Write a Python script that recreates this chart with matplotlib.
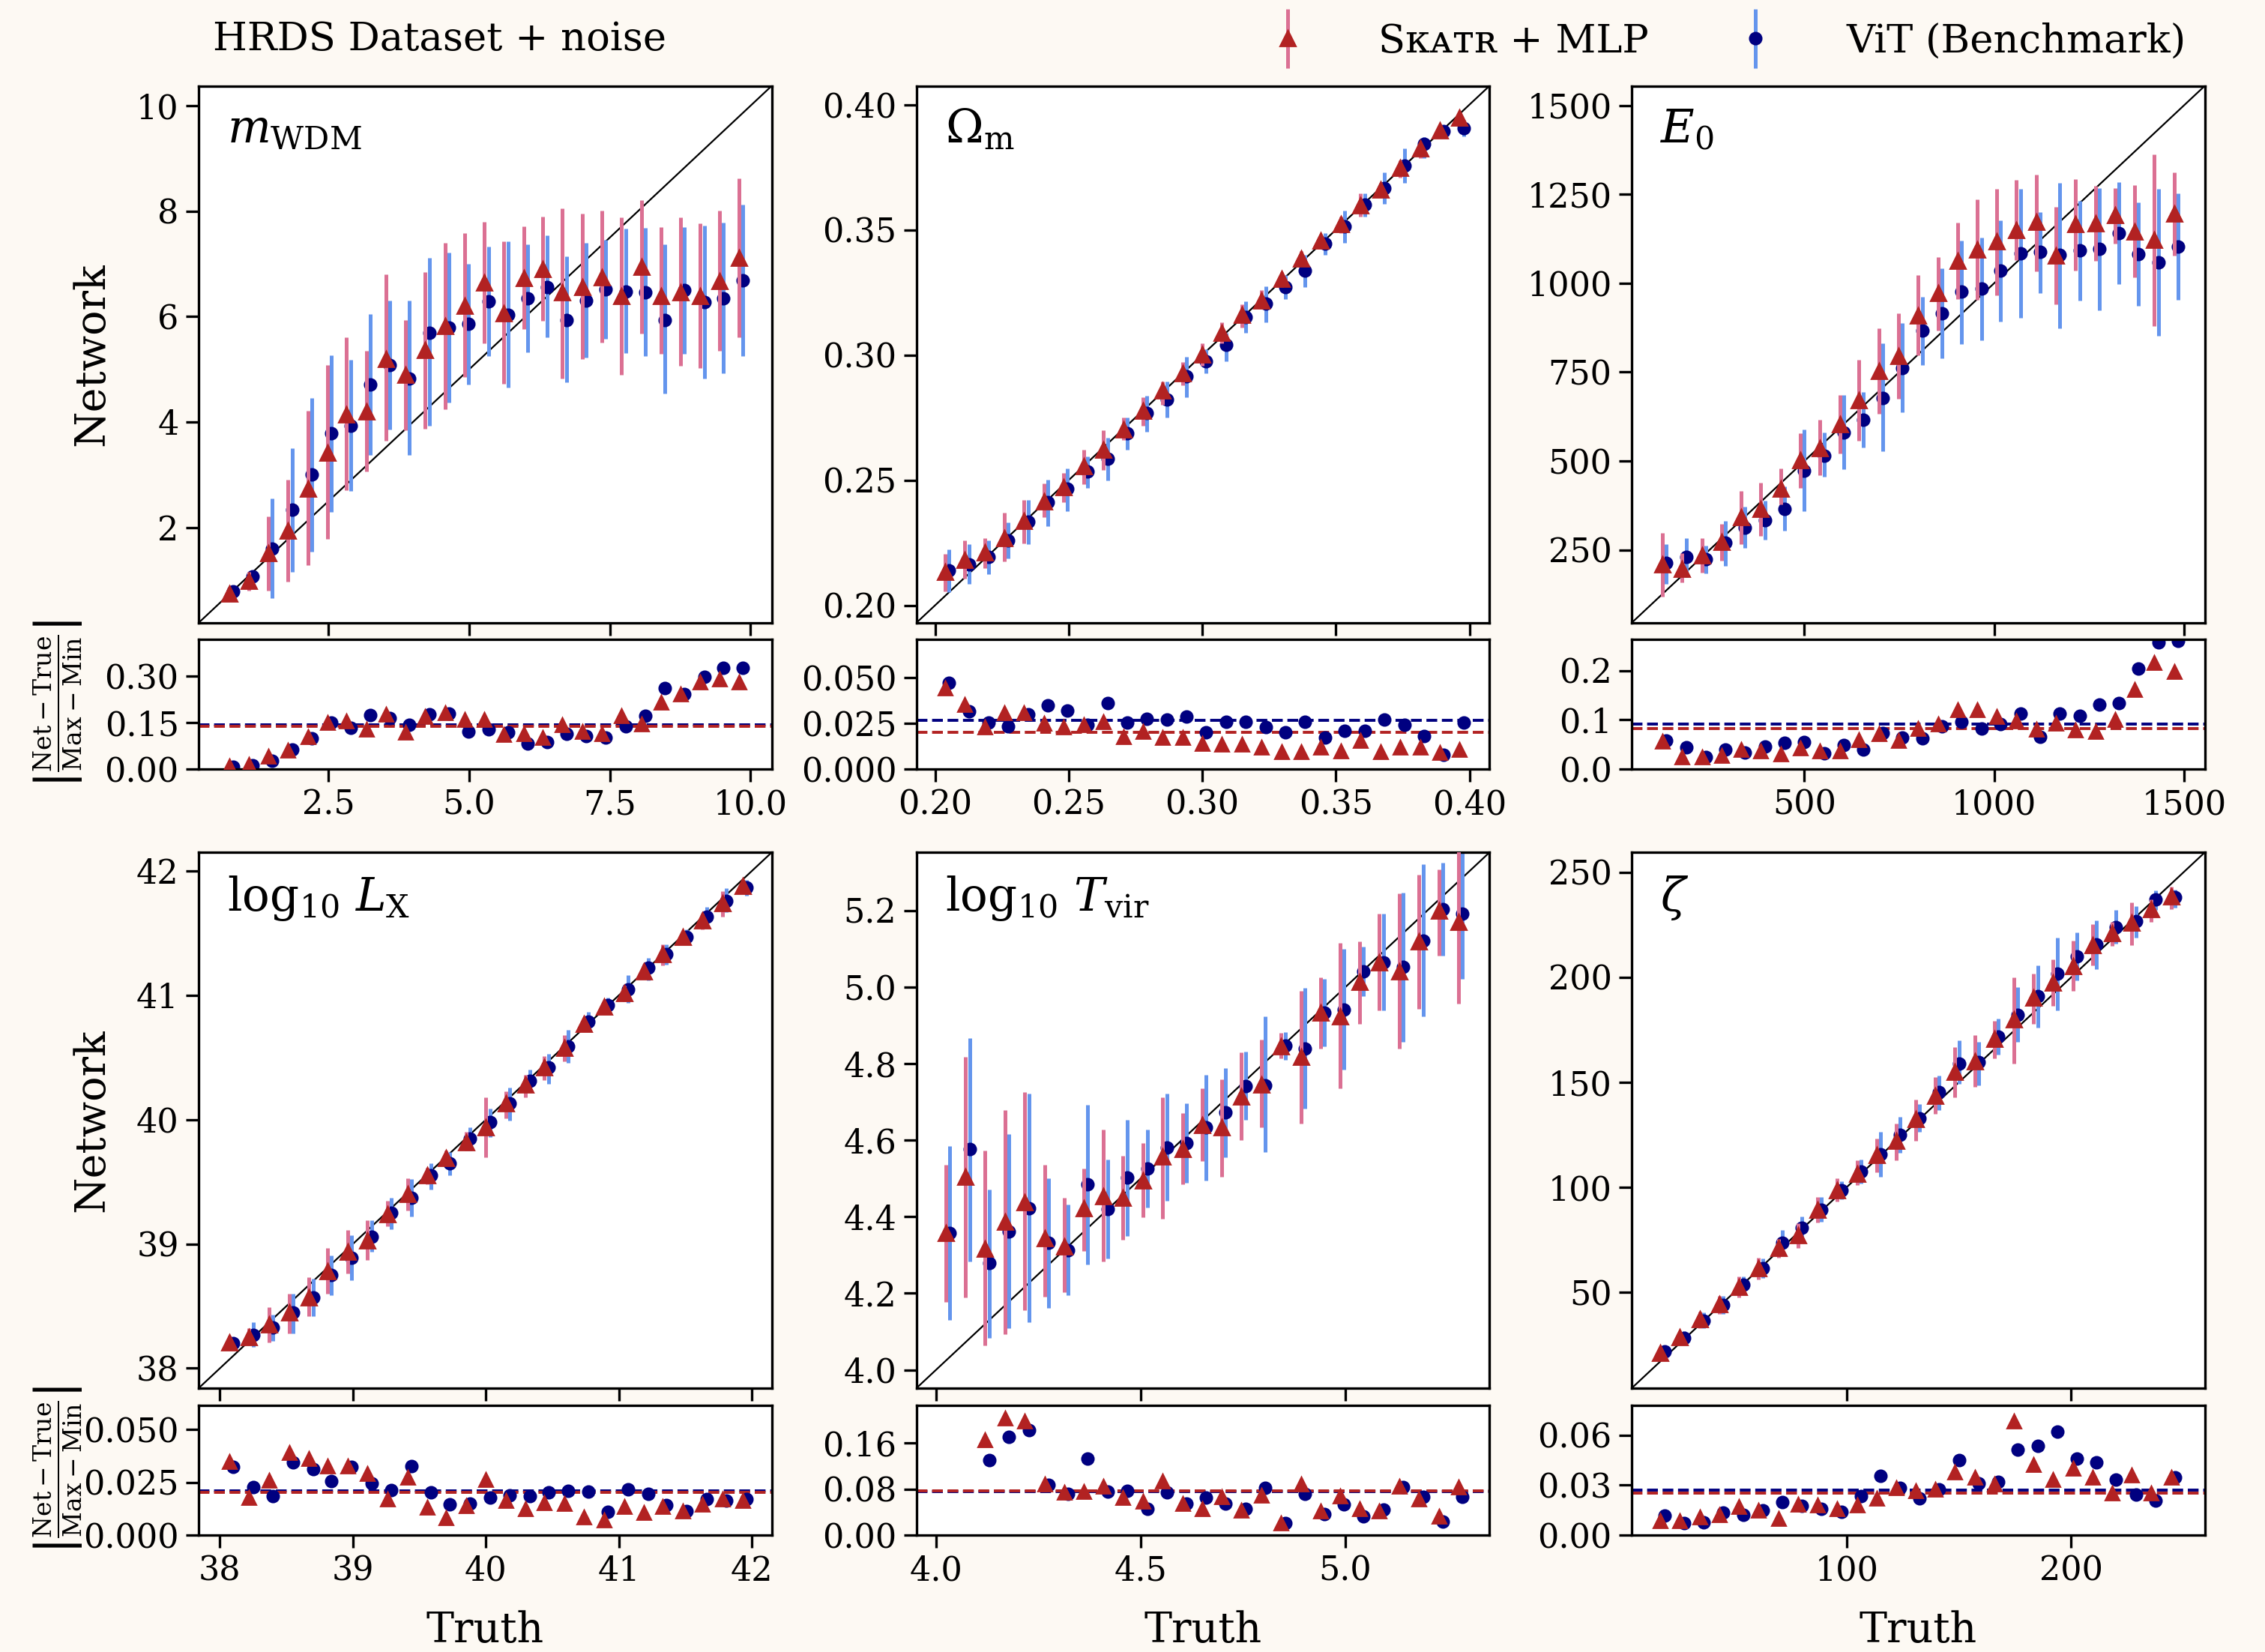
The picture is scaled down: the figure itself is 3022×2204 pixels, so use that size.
import numpy as np
import matplotlib.pyplot as plt
from matplotlib.container import ErrorbarContainer
from matplotlib.legend_handler import HandlerErrorbar

plt.rcParams['font.family'] = ['DejaVu Serif', 'DejaVu Sans']
plt.rcParams['mathtext.fontset'] = 'dejavuserif'

# ---- m_WDM ----
mwdm_truth = [0.73, 1.08, 1.43, 1.78, 2.13, 2.48, 2.82, 3.17, 3.52, 3.87, 4.22, 4.57, 4.92, 5.27,
              5.62, 5.97, 6.31, 6.66, 7.01, 7.36, 7.71, 8.06, 8.41, 8.76, 9.11, 9.45, 9.80]
mwdm_sk = [0.75, 0.99, 1.51, 1.94, 2.74, 3.42, 4.15, 4.20, 5.20, 4.90, 5.37, 5.82, 6.20, 6.65,
           6.07, 6.73, 6.90, 6.46, 6.56, 6.75, 6.39, 6.94, 6.39, 6.46, 6.39, 6.67, 7.11]
mwdm_sk_lo = [0.70, 0.80, 0.80, 0.97, 1.29, 1.78, 2.70, 3.06, 3.64, 3.84, 3.88, 4.24, 4.85, 5.49,
              4.73, 5.76, 5.92, 4.83, 5.20, 5.51, 4.90, 5.68, 5.29, 5.07, 5.03, 5.35, 5.61]
mwdm_sk_hi = [0.80, 1.16, 2.21, 2.91, 4.22, 5.08, 5.61, 5.35, 6.80, 5.93, 6.84, 7.40, 7.59, 7.80,
              7.43, 7.71, 7.90, 8.05, 7.95, 8.01, 7.88, 8.21, 7.70, 7.88, 7.77, 8.01, 8.62]
mwdm_vt = [0.78, 1.07, 1.60, 2.33, 3.01, 3.79, 3.93, 4.71, 5.08, 4.83, 5.69, 5.80, 5.86, 6.29,
           6.03, 6.35, 6.56, 5.94, 6.31, 6.52, 6.48, 6.46, 5.94, 6.50, 6.28, 6.35, 6.69]
mwdm_vt_lo = [0.72, 0.93, 0.66, 1.16, 1.54, 2.29, 2.69, 3.38, 3.86, 3.38, 3.93, 4.37, 4.71, 5.25,
              4.66, 5.33, 5.61, 4.75, 5.22, 5.58, 5.31, 5.25, 4.54, 5.29, 4.83, 4.93, 5.26]
mwdm_vt_hi = [0.84, 1.19, 2.55, 3.50, 4.46, 5.27, 5.18, 6.05, 6.31, 6.31, 7.12, 7.22, 7.00, 7.33,
              7.43, 7.37, 7.54, 7.14, 7.40, 7.46, 7.67, 7.69, 7.37, 7.70, 7.73, 7.79, 8.13]
mwdm_sk_res = [0.010, 0.015, 0.040, 0.060, 0.104, 0.150, 0.156, 0.128, 0.178, 0.118, 0.170, 0.182,
               0.160, 0.160, 0.112, 0.114, 0.101, 0.142, 0.122, 0.114, 0.172, 0.146, 0.215, 0.243,
               0.282, 0.292, 0.282]
mwdm_vt_res = [0.008, 0.012, 0.026, 0.063, 0.099, 0.150, 0.134, 0.174, 0.164, 0.144, 0.178, 0.180,
               0.122, 0.128, 0.118, 0.083, 0.088, 0.115, 0.107, 0.101, 0.139, 0.173, 0.263, 0.242,
               0.298, 0.328, 0.328]
mwdm_means = [0.139, 0.143]

# ---- Omega_m ----
om_truth = [0.2037, 0.2111, 0.2185, 0.2259, 0.2333, 0.2407, 0.2481, 0.2556, 0.2630, 0.2704,
            0.2778, 0.2852, 0.2926, 0.3000, 0.3074, 0.3148, 0.3222, 0.3296, 0.3370, 0.3444,
            0.3519, 0.3593, 0.3667, 0.3741, 0.3815, 0.3889, 0.3963]
om_sk = [0.2133, 0.2181, 0.2212, 0.2269, 0.2337, 0.2415, 0.2473, 0.2556, 0.2620, 0.2702, 0.2778,
         0.2857, 0.2928, 0.3003, 0.3089, 0.3160, 0.3218, 0.3304, 0.3384, 0.3458, 0.3523, 0.3599,
         0.3662, 0.3748, 0.3824, 0.3898, 0.3948]
om_sk_lo = [0.2054, 0.2105, 0.2148, 0.2176, 0.2248, 0.2352, 0.2413, 0.2484, 0.2542, 0.2659, 0.2716,
            0.2802, 0.2878, 0.2957, 0.3046, 0.3110, 0.3183, 0.3272, 0.3355, 0.3433, 0.3487, 0.3552,
            0.3633, 0.3709, 0.3785, 0.3871, 0.3931]
om_sk_hi = [0.2205, 0.2258, 0.2269, 0.2370, 0.2420, 0.2487, 0.2530, 0.2620, 0.2699, 0.2749, 0.2831,
            0.2895, 0.2971, 0.3046, 0.3132, 0.3203, 0.3258, 0.3332, 0.3415, 0.3480, 0.3552, 0.3645,
            0.3688, 0.3777, 0.3848, 0.3917, 0.3967]
om_vt = [0.2138, 0.2162, 0.2193, 0.2258, 0.2334, 0.2413, 0.2466, 0.2534, 0.2585, 0.2688, 0.2768,
         0.2821, 0.2914, 0.2976, 0.3040, 0.3153, 0.3206, 0.3272, 0.3337, 0.3444, 0.3513, 0.3602,
         0.3666, 0.3756, 0.3842, 0.3895, 0.3907]
om_vt_lo = [0.2052, 0.2086, 0.2123, 0.2186, 0.2244, 0.2315, 0.2377, 0.2470, 0.2499, 0.2620, 0.2692,
            0.2749, 0.2831, 0.2928, 0.2974, 0.3089, 0.3132, 0.3222, 0.3272, 0.3401, 0.3447, 0.3552,
            0.3605, 0.3688, 0.3785, 0.3874, 0.3874]
om_vt_hi = [0.2224, 0.2244, 0.2258, 0.2330, 0.2420, 0.2501, 0.2546, 0.2596, 0.2670, 0.2749, 0.2838,
            0.2893, 0.2993, 0.3022, 0.3089, 0.3215, 0.3275, 0.3318, 0.3401, 0.3487, 0.3576, 0.3645,
            0.3728, 0.3824, 0.3871, 0.3917, 0.3938]
om_sk_res = [0.0441, 0.0352, 0.0230, 0.0309, 0.0309, 0.0250, 0.0230, 0.0243, 0.0257, 0.0178, 0.0205,
             0.0172, 0.0172, 0.0141, 0.0137, 0.0137, 0.0117, 0.0093, 0.0093, 0.0120, 0.0100, 0.0154,
             0.0096, 0.0117, 0.0120, 0.0090, 0.0107]
om_vt_res = [0.0473, 0.0314, 0.0254, 0.0232, 0.0300, 0.0350, 0.0318, 0.0240, 0.0363, 0.0254, 0.0273,
             0.0270, 0.0287, 0.0202, 0.0260, 0.0260, 0.0230, 0.0199, 0.0260, 0.0172, 0.0209, 0.0209,
             0.0270, 0.0240, 0.0182, 0.0079, 0.0254]
om_means = [0.0202, 0.0266]

# ---- E_0 ----
e0_truth = [126, 178, 230, 282, 333, 385, 437, 489, 541, 593, 644, 696, 748, 800, 852, 904, 956,
            1007, 1059, 1111, 1163, 1215, 1267, 1319, 1370, 1422, 1474]
e0_sk = [210, 197, 235, 272, 341, 366, 423, 502, 537, 603, 670, 754, 796, 910, 973, 1064, 1094,
         1117, 1149, 1172, 1077, 1167, 1169, 1191, 1145, 1122, 1195]
e0_sk_lo = [119, 159, 185, 220, 267, 290, 378, 424, 460, 522, 557, 633, 676, 797, 868, 956, 953,
            966, 1066, 1033, 941, 1036, 1064, 1112, 1016, 880, 1077]
e0_sk_hi = [298, 241, 283, 323, 416, 440, 480, 578, 616, 686, 784, 873, 915, 1023, 1074, 1170, 1235,
            1265, 1290, 1305, 1215, 1293, 1273, 1268, 1276, 1362, 1311]
e0_vt = [213, 230, 223, 270, 313, 333, 366, 472, 515, 581, 616, 678, 761, 867, 915, 976, 986,
         1036, 1085, 1089, 1079, 1092, 1097, 1142, 1082, 1058, 1104]
e0_vt_lo = [154, 174, 183, 205, 255, 278, 304, 358, 455, 477, 539, 527, 638, 769, 789, 828, 840,
            892, 902, 973, 874, 951, 923, 998, 936, 852, 953]
e0_vt_hi = [267, 283, 262, 331, 371, 389, 429, 588, 580, 686, 694, 832, 887, 962, 1041, 1120, 1129,
            1177, 1265, 1201, 1282, 1231, 1268, 1285, 1228, 1265, 1253]
e0_sk_res = [0.056, 0.025, 0.024, 0.027, 0.039, 0.037, 0.030, 0.042, 0.037, 0.037, 0.059, 0.071,
             0.058, 0.083, 0.091, 0.120, 0.120, 0.107, 0.097, 0.081, 0.093, 0.080, 0.076, 0.100,
             0.162, 0.216, 0.198]
e0_vt_res = [0.058, 0.044, 0.024, 0.040, 0.034, 0.045, 0.054, 0.055, 0.032, 0.049, 0.039, 0.073,
             0.064, 0.063, 0.087, 0.096, 0.083, 0.092, 0.113, 0.066, 0.113, 0.108, 0.131, 0.134,
             0.205, 0.258, 0.261]
e0_means = [0.083, 0.092]

# ---- log10 L_X ----
lx_truth = [38.07, 38.22, 38.37, 38.52, 38.67, 38.81, 38.96, 39.11, 39.26, 39.41, 39.56, 39.70,
            39.85, 40.00, 40.15, 40.30, 40.44, 40.59, 40.74, 40.89, 41.04, 41.19, 41.33, 41.48,
            41.63, 41.78, 41.93]
lx_sk = [38.21, 38.25, 38.35, 38.45, 38.57, 38.78, 38.94, 39.03, 39.24, 39.40, 39.55, 39.69, 39.82,
         39.94, 40.13, 40.28, 40.42, 40.58, 40.77, 40.91, 41.02, 41.19, 41.33, 41.47, 41.60, 41.74,
         41.88]
lx_sk_lo = [38.15, 38.20, 38.21, 38.28, 38.42, 38.60, 38.76, 38.87, 39.14, 39.27, 39.48, 39.64,
            39.75, 39.70, 40.01, 40.18, 40.32, 40.47, 40.71, 40.86, 40.95, 41.15, 41.24, 41.43,
            41.53, 41.63, 41.83]
lx_sk_hi = [38.26, 38.32, 38.49, 38.60, 38.73, 38.97, 39.11, 39.19, 39.35, 39.53, 39.61, 39.75,
            39.90, 40.18, 40.23, 40.36, 40.51, 40.68, 40.80, 40.95, 41.08, 41.24, 41.41, 41.50,
            41.66, 41.84, 41.91]
lx_vt = [38.20, 38.27, 38.33, 38.45, 38.57, 38.75, 38.89, 39.06, 39.25, 39.37, 39.55, 39.65, 39.85,
         39.98, 40.13, 40.31, 40.42, 40.59, 40.79, 40.92, 41.05, 41.22, 41.33, 41.47, 41.63, 41.76,
         41.87]
lx_vt_lo = [38.15, 38.17, 38.22, 38.28, 38.42, 38.59, 38.71, 38.94, 39.12, 39.22, 39.44, 39.55,
            39.75, 39.86, 39.99, 40.22, 40.29, 40.46, 40.71, 40.86, 40.94, 41.12, 41.25, 41.41,
            41.54, 41.67, 41.80]
lx_vt_hi = [38.24, 38.37, 38.43, 38.60, 38.72, 38.91, 39.07, 39.19, 39.37, 39.52, 39.65, 39.74,
            39.94, 40.09, 40.26, 40.40, 40.53, 40.72, 40.87, 40.98, 41.16, 41.30, 41.41, 41.53,
            41.71, 41.86, 41.93]
lx_sk_res = [0.0349, 0.0177, 0.0260, 0.0390, 0.0361, 0.0327, 0.0327, 0.0290, 0.0169, 0.0275, 0.0130,
             0.0083, 0.0138, 0.0264, 0.0165, 0.0126, 0.0154, 0.0150, 0.0086, 0.0071, 0.0134, 0.0106,
             0.0136, 0.0115, 0.0145, 0.0169, 0.0162]
lx_vt_res = [0.0325, 0.0228, 0.0183, 0.0343, 0.0311, 0.0256, 0.0325, 0.0245, 0.0213, 0.0327, 0.0201,
             0.0145, 0.0150, 0.0177, 0.0189, 0.0186, 0.0204, 0.0209, 0.0207, 0.0110, 0.0216, 0.0197,
             0.0142, 0.0115, 0.0169, 0.0165, 0.0169]
lx_means = [0.0201, 0.0209]

# ---- log10 T_vir ----
tv_truth = [4.024, 4.072, 4.120, 4.168, 4.217, 4.265, 4.313, 4.361, 4.409, 4.457, 4.506, 4.554,
            4.602, 4.650, 4.698, 4.746, 4.794, 4.843, 4.891, 4.939, 4.987, 5.035, 5.083, 5.131,
            5.180, 5.228, 5.276]
tv_sk = [4.357, 4.505, 4.317, 4.387, 4.438, 4.344, 4.323, 4.422, 4.454, 4.449, 4.495, 4.557, 4.577,
         4.640, 4.634, 4.714, 4.745, 4.845, 4.818, 4.933, 4.924, 5.014, 5.065, 5.042, 5.119, 5.200,
         5.170]
tv_sk_lo = [4.178, 4.189, 4.063, 4.094, 4.155, 4.191, 4.202, 4.310, 4.283, 4.340, 4.398, 4.395,
            4.485, 4.546, 4.505, 4.600, 4.634, 4.813, 4.643, 4.840, 4.735, 4.903, 4.940, 4.839,
            4.944, 5.083, 4.957]
tv_sk_hi = [4.535, 4.818, 4.573, 4.678, 4.725, 4.535, 4.449, 4.526, 4.627, 4.559, 4.593, 4.712,
            4.670, 4.735, 4.759, 4.829, 4.863, 4.880, 4.991, 5.025, 5.115, 5.119, 5.191, 5.245,
            5.294, 5.308, 5.380]
tv_vt = [4.357, 4.576, 4.279, 4.361, 4.422, 4.333, 4.313, 4.485, 4.420, 4.503, 4.526, 4.580, 4.593,
         4.634, 4.672, 4.741, 4.744, 4.847, 4.839, 4.933, 4.941, 5.041, 5.065, 5.052, 5.122, 5.204,
         5.191]
tv_vt_lo = [4.131, 4.283, 4.083, 4.108, 4.125, 4.162, 4.195, 4.276, 4.290, 4.350, 4.425, 4.441,
            4.489, 4.495, 4.555, 4.654, 4.569, 4.809, 4.683, 4.845, 4.785, 4.977, 4.940, 4.856,
            4.924, 5.083, 5.021]
tv_vt_hi = [4.584, 4.867, 4.472, 4.616, 4.721, 4.501, 4.431, 4.692, 4.549, 4.654, 4.627, 4.721,
            4.697, 4.771, 4.789, 4.832, 4.924, 4.883, 4.998, 5.021, 5.099, 5.106, 5.191, 5.247,
            5.321, 5.325, 5.400]
tv_sk_res = [0.26, 0.33, 0.165, 0.203, 0.198, 0.089, 0.074, 0.075, 0.085, 0.065, 0.059, 0.094, 0.055,
             0.045, 0.066, 0.043, 0.069, 0.021, 0.089, 0.041, 0.068, 0.046, 0.042, 0.085, 0.062,
             0.032, 0.083]
tv_vt_res = [0.25, 0.38, 0.130, 0.171, 0.183, 0.087, 0.071, 0.133, 0.075, 0.077, 0.046, 0.074, 0.055,
             0.065, 0.055, 0.045, 0.082, 0.021, 0.071, 0.036, 0.053, 0.032, 0.044, 0.083, 0.066,
             0.024, 0.066]
tv_means = [0.077, 0.075]

# ---- zeta ----
zt_truth = [17.1, 25.8, 34.6, 43.3, 52.1, 60.8, 69.6, 78.3, 87.1, 95.8, 104.6, 113.3, 122.0, 130.8,
            139.5, 148.3, 157.0, 165.8, 174.5, 183.3, 192.0, 200.8, 209.5, 218.2, 227.0, 235.7, 244.5]
zt_sk = [21.0, 28.7, 37.0, 44.4, 52.5, 61.6, 71.0, 77.1, 89.4, 98.5, 106.6, 115.2, 122.1, 132.4,
         143.5, 155.1, 160.0, 170.6, 179.9, 190.2, 197.6, 205.5, 215.3, 221.0, 225.9, 232.5, 238.6]
zt_sk_lo = [18.6, 25.5, 32.8, 39.5, 47.6, 56.2, 66.5, 71.0, 83.2, 93.1, 101.0, 107.1, 112.8, 122.1,
            134.9, 142.8, 147.7, 161.5, 158.8, 177.9, 186.5, 193.4, 205.7, 214.8, 215.3, 226.4, 232.5]
zt_sk_hi = [23.7, 31.6, 40.9, 48.3, 57.4, 66.5, 75.4, 82.8, 95.5, 104.2, 112.8, 123.1, 130.5, 141.8,
            152.6, 166.9, 172.3, 179.2, 200.1, 201.8, 208.7, 217.3, 225.2, 226.4, 235.7, 237.0, 243.1]
zt_vt = [21.8, 28.4, 36.5, 43.9, 53.7, 61.6, 73.4, 80.8, 89.4, 98.5, 107.4, 115.7, 125.1, 132.9,
         145.2, 159.0, 159.5, 171.8, 182.1, 191.0, 201.8, 209.9, 215.6, 223.9, 226.6, 237.0, 238.2]
zt_vt_lo = [19.3, 25.5, 32.8, 39.5, 50.0, 56.7, 68.5, 75.4, 83.7, 94.3, 101.7, 104.9, 116.5, 126.3,
            136.9, 149.2, 148.4, 163.2, 169.3, 176.2, 184.1, 198.4, 203.8, 216.1, 219.0, 232.0, 233.3]
zt_vt_hi = [24.2, 31.6, 40.2, 48.3, 57.4, 66.0, 79.6, 86.2, 95.5, 102.9, 113.3, 126.3, 133.6, 139.8,
            153.3, 169.8, 169.3, 180.4, 195.2, 205.7, 219.0, 221.5, 227.1, 232.0, 233.8, 241.4, 241.9]
zt_sk_res = [0.0085, 0.0085, 0.0107, 0.0123, 0.0171, 0.0148, 0.0101, 0.0186, 0.0180, 0.0158, 0.0180,
             0.0221, 0.0284, 0.0265, 0.0275, 0.0379, 0.0348, 0.0306, 0.0686, 0.0423, 0.0332, 0.0401,
             0.0348, 0.0253, 0.0360, 0.0253, 0.0348]
zt_vt_res = [0.0117, 0.0070, 0.0076, 0.0133, 0.0123, 0.0148, 0.0196, 0.0174, 0.0158, 0.0139, 0.0234,
             0.0354, 0.0284, 0.0221, 0.0275, 0.0449, 0.0313, 0.0322, 0.0512, 0.0537, 0.0623, 0.0458,
             0.0439, 0.0332, 0.0243, 0.0205, 0.0348]
zt_means = [0.0253, 0.0269]

labels = [r'$m_{\rm WDM}$', r'$\Omega_{\rm m}$', r'$E_0$',
          r'$\log_{10}\,L_{\rm X}$', r'$\log_{10}\,T_{\rm vir}$', r'$\zeta$']

panels = [
    (mwdm_truth, mwdm_sk, mwdm_sk_lo, mwdm_sk_hi, mwdm_vt, mwdm_vt_lo, mwdm_vt_hi,
     mwdm_sk_res, mwdm_vt_res, mwdm_means),
    (om_truth, om_sk, om_sk_lo, om_sk_hi, om_vt, om_vt_lo, om_vt_hi, om_sk_res, om_vt_res, om_means),
    (e0_truth, e0_sk, e0_sk_lo, e0_sk_hi, e0_vt, e0_vt_lo, e0_vt_hi, e0_sk_res, e0_vt_res, e0_means),
    (lx_truth, lx_sk, lx_sk_lo, lx_sk_hi, lx_vt, lx_vt_lo, lx_vt_hi, lx_sk_res, lx_vt_res, lx_means),
    (tv_truth, tv_sk, tv_sk_lo, tv_sk_hi, tv_vt, tv_vt_lo, tv_vt_hi, tv_sk_res, tv_vt_res, tv_means),
    (zt_truth, zt_sk, zt_sk_lo, zt_sk_hi, zt_vt, zt_vt_lo, zt_vt_hi, zt_sk_res, zt_vt_res, zt_means),
]

# axis setup per panel
lims = [(0.19, 10.38), (0.193, 0.4075), (45, 1555), (37.84, 42.15), (3.952, 5.352), (4.3, 259.5)]
yticks = [[2, 4, 6, 8, 10], [0.20, 0.25, 0.30, 0.35, 0.40], [250, 500, 750, 1000, 1250, 1500],
          [38, 39, 40, 41, 42], [4.0, 4.2, 4.4, 4.6, 4.8, 5.0, 5.2], [50, 100, 150, 200, 250]]
xticks = [[2.5, 5.0, 7.5, 10.0], [0.20, 0.25, 0.30, 0.35, 0.40], [500, 1000, 1500],
          [38, 39, 40, 41, 42], [4.0, 4.5, 5.0], [100, 200]]
rlims = [0.42, 0.071, 0.264, 0.0615, 0.2255, 0.078]
rticks = [[0, 0.15, 0.30], [0, 0.025, 0.05], [0, 0.1, 0.2], [0, 0.025, 0.05], [0, 0.08, 0.16],
          [0, 0.03, 0.06]]

sk_c, sk_ec = '#b22222', '#db7093'
vt_c, vt_ec = '#000080', '#6495ed'

fig = plt.figure(figsize=(15.11, 11.02), dpi=200, facecolor='#fdf9f3')

lefts = [0.0877, 0.4046, 0.7204]
W = 0.253
rows = [(0.623, 0.325, 0.5345), (0.1597, 0.3243, 0.0708)]
RH = 0.0785

handles = None
for i, p in enumerate(panels):
    truth, sk, sk_lo, sk_hi, vt, vt_lo, vt_hi, sk_res, vt_res = [np.asarray(a, float) for a in p[:9]]
    means = p[9]
    r, c = divmod(i, 3)
    mb, mh, rb = rows[r]
    ax = fig.add_axes([lefts[c], mb, W, mh])
    rax = fig.add_axes([lefts[c], rb, W, RH])
    lo, hi = lims[i]
    dx = 0.007 * (hi - lo)

    ax.plot([lo, hi], [lo, hi], color='k', lw=0.8, zorder=1)
    hv = ax.errorbar(truth + dx, vt, yerr=[vt - vt_lo, vt_hi - vt], fmt='o', color=vt_c,
                     ecolor=vt_ec, elinewidth=1.8, ms=5.5, capsize=0, zorder=2)
    hs = ax.errorbar(truth, sk, yerr=[sk - sk_lo, sk_hi - sk], fmt='^', color=sk_c,
                     ecolor=sk_ec, elinewidth=1.8, ms=7, capsize=0, zorder=3)
    if handles is None:
        handles = [hs, hv]
    ax.set_xlim(lo, hi)
    ax.set_ylim(lo, hi)
    ax.set_xticks(xticks[i])
    ax.set_yticks(yticks[i])
    ax.tick_params(labelbottom=False, labelsize=16, length=6, width=1.2)
    ax.text(0.05, 0.96, labels[i], transform=ax.transAxes, ha='left', va='top', fontsize=22)

    rax.plot(truth + dx, vt_res, 'o', color=vt_c, ms=5.5, zorder=2)
    rax.plot(truth, sk_res, '^', color=sk_c, ms=6.5, zorder=3)
    rax.axhline(means[1], color=vt_c, ls='--', lw=1.4, zorder=1)
    rax.axhline(means[0], color=sk_c, ls='--', lw=1.4, zorder=1)
    rax.set_xlim(lo, hi)
    rax.set_ylim(0, rlims[i])
    rax.set_xticks(xticks[i])
    rax.set_yticks(rticks[i])
    rax.tick_params(labelsize=16, length=6, width=1.2)

    for a in (ax, rax):
        for s in a.spines.values():
            s.set_linewidth(1.2)

    if c == 0:
        ax.set_ylabel('Network', fontsize=20)
        ax.yaxis.set_label_coords(-0.15, 0.5)
        rax.set_ylabel(r'$\left|\frac{\mathrm{Net}-\mathrm{True}}{\mathrm{Max}-\mathrm{Min}}\right|$',
                       fontsize=17)
        rax.yaxis.set_label_coords(-0.2, 0.5)
    if r == 1:
        rax.set_xlabel('Truth', fontsize=20)
        rax.xaxis.set_label_coords(0.5, -0.58)

fig.text(0.094, 0.976, 'HRDS Dataset + noise', fontsize=19, va='center', ha='left')
fig.legend(handles, ['S\u1d0b\u1d00\u1d1b\u0280 + MLP', 'ViT (Benchmark)'], ncol=2,
           loc='upper right', bbox_to_anchor=(0.981, 1.008), frameon=False, fontsize=19,
           columnspacing=1.7, handletextpad=1.3,
           handler_map={ErrorbarContainer: HandlerErrorbar(xerr_size=0.5, yerr_size=0.75)})

fig.savefig('out.png', dpi=200, facecolor=fig.get_facecolor())
